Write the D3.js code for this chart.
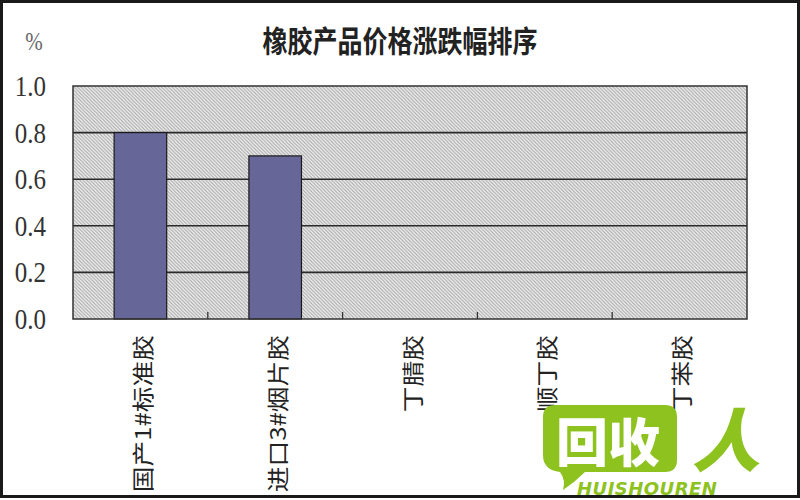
<!DOCTYPE html>
<html>
<head>
<meta charset="utf-8">
<script src="https://cdn.jsdelivr.net/npm/d3@7"></script>
<style>
  html, body { margin: 0; padding: 0; background: #fff; }
  svg { display: block; }
</style>
</head>
<body>
<svg id="chart" width="800" height="500"></svg>
<script>
// ---- data ----
const categories = ["国产1#标准胶", "进口3#烟片胶", "丁腈胶", "顺丁胶", "丁苯胶"];
const values = [0.8, 0.7, 0, 0, 0];
const yTicks = [0.0, 0.2, 0.4, 0.6, 0.8, 1.0];
const titleText = "橡胶产品价格涨跌幅排序";
const unitText = "%";

const svg = d3.select("#chart");
const W = 800, H = 500;
const m = { left: 73, right: 53, top: 86, bottom: 181 };
const pw = W - m.left - m.right, ph = H - m.top - m.bottom;
const SY = 1.17; // vertical stretch of the original image

// frame
svg.append("rect").attr("x", 1.5).attr("y", 1.5).attr("width", W - 3).attr("height", H - 5)
  .attr("fill", "#fff").attr("stroke", "#1a1a1a").attr("stroke-width", 3);

// hatch pattern
const defs = svg.append("defs");
const pat = defs.append("pattern").attr("id", "hatch").attr("patternUnits", "userSpaceOnUse")
  .attr("width", 3.5).attr("height", 3.5);
pat.append("rect").attr("width", 3.5).attr("height", 3.5).attr("fill", "#f4f4f4");
pat.append("path").attr("d", "M-1,-1 L4.5,4.5 M-1,2.5 L1,4.5 M2.5,-1 L4.5,1")
  .attr("stroke", "#a8a8a8").attr("stroke-width", 1.1);

const x = d3.scaleBand().domain(categories).range([0, pw]).paddingInner(0.61).paddingOuter(0.305);
const y = d3.scaleLinear().domain([0, 1]).range([ph, 0]);

const g = svg.append("g").attr("transform", `translate(${m.left},${m.top})`);

// plot background
g.append("rect").attr("width", pw).attr("height", ph).attr("fill", "url(#hatch)");

// gridlines
g.append("g").selectAll("line").data(yTicks.filter(t => t > 0 && t < 1)).join("line")
  .attr("x1", 0).attr("x2", pw).attr("y1", d => y(d)).attr("y2", d => y(d))
  .attr("stroke", "#2a2a2a").attr("stroke-width", 1.6);

// bars
g.append("g").selectAll("rect").data(categories).join("rect")
  .attr("x", d => x(d)).attr("width", x.bandwidth())
  .attr("y", (d, i) => y(values[i])).attr("height", (d, i) => ph - y(values[i]))
  .attr("fill", "#666699").attr("stroke", "#1a1a1a").attr("stroke-width", 1.2);

// plot border
g.append("rect").attr("width", pw).attr("height", ph).attr("fill", "none")
  .attr("stroke", "#333").attr("stroke-width", 1.5);

// category boundary ticks (inward)
g.append("g").selectAll("line").data(categories.slice(1)).join("line")
  .attr("x1", (d, i) => (i + 1) * pw / categories.length)
  .attr("x2", (d, i) => (i + 1) * pw / categories.length)
  .attr("y1", ph).attr("y2", ph - 7)
  .attr("stroke", "#333").attr("stroke-width", 1.3);

// y axis labels (slightly stretched vertically, like the source)
g.append("g").selectAll("text").data(yTicks).join("text")
  .attr("transform", d => `translate(46,${y(d)}) scale(1,${SY})`)
  .attr("x", -m.left).attr("text-anchor", "end").attr("dy", "0.34em")
  .attr("font-family", "'Liberation Serif', 'DejaVu Serif', serif")
  .attr("font-size", 25).attr("fill", "#333")
  .text(d3.format(".1f"));

// x labels (rotated)
g.append("g").selectAll("text").data(categories).join("text")
  .attr("transform", d => `translate(${x(d) + x.bandwidth() / 2 + 1},${ph + 16}) scale(1,${SY}) rotate(-90)`)
  .attr("text-anchor", "end").attr("dominant-baseline", "central")
  .attr("font-family", "'Noto Sans CJK SC', sans-serif").attr("font-size", 22).attr("fill", "#222")
  .text(d => d);

// title
svg.append("text").attr("transform", `translate(400,52) scale(1,1.2)`).attr("text-anchor", "middle")
  .attr("font-family", "'Noto Sans CJK SC', sans-serif").attr("font-size", 25).attr("font-weight", "bold")
  .attr("fill", "#222").text(titleText);

// unit
svg.append("text").attr("transform", `translate(34,50) scale(1,${SY})`).attr("text-anchor", "middle")
  .attr("font-family", "'Liberation Serif', serif").attr("font-size", 21).attr("fill", "#666")
  .text(unitText);

// watermark
const wm = svg.append("g");
const green = "#8dc21f";
wm.append("path")
  .attr("d", "M555,405 L665,405 Q677,405 677,417 L677,460 Q677,472 665,472 L585,472 Q575,482 563,490 Q566,480 560,472 Q543,470 543,455 L543,417 Q543,405 555,405 Z")
  .attr("fill", green);
wm.append("text").attr("x", 608).attr("y", 462).attr("text-anchor", "middle")
  .attr("font-family", "'Noto Sans CJK SC', sans-serif").attr("font-weight", 900).attr("font-size", 52)
  .attr("fill", "#fff").text("回收");
wm.append("text").attr("x", 726).attr("y", 466).attr("text-anchor", "middle")
  .attr("font-family", "'Noto Sans CJK SC', sans-serif").attr("font-weight", 900).attr("font-size", 68)
  .attr("font-style", "italic").attr("fill", green).text("人");
wm.append("text").attr("x", 577).attr("y", 495)
  .attr("font-family", "'DejaVu Sans', sans-serif").attr("font-weight", "bold").attr("font-style", "italic")
  .attr("font-size", 18).attr("letter-spacing", 1.2).attr("textLength", 141).attr("fill", green).text("HUISHOUREN");
</script>
</body>
</html>
